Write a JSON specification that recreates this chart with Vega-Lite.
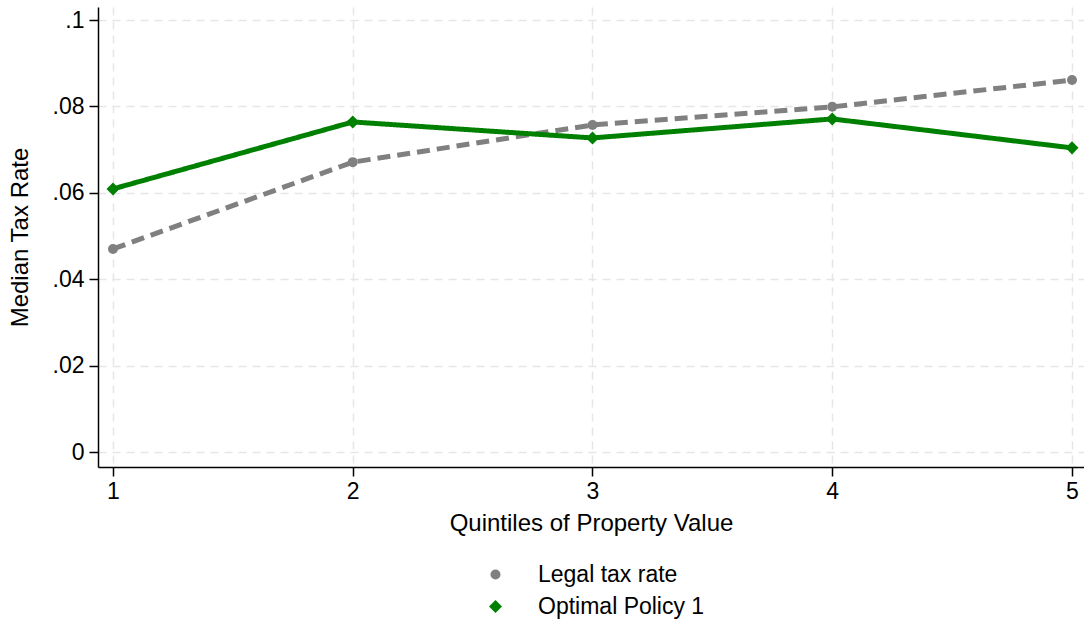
{
  "$schema": "https://vega.github.io/schema/vega-lite/v6.json",
  "width": 986,
  "height": 460,
  "autosize": {"type": "none"},
  "padding": {"left": 98, "top": 7, "right": 0, "bottom": 155},
  "background": "white",
  "config": {
    "view": {"stroke": null},
    "font": "Liberation Sans",
    "axis": {
      "domainColor": "black",
      "domainWidth": 1.5,
      "tickColor": "black",
      "tickWidth": 1.5,
      "tickSize": 9,
      "labelFontSize": 23,
      "labelColor": "black",
      "titleFontSize": 24,
      "titleFontWeight": "normal",
      "titleColor": "black",
      "grid": true,
      "gridColor": "#e6e6e6",
      "gridWidth": 1.5,
      "gridDash": [8, 6]
    }
  },
  "data": {
    "values": [
      {"q": 1, "series": "Legal tax rate", "rate": 0.0470},
      {"q": 2, "series": "Legal tax rate", "rate": 0.0671},
      {"q": 3, "series": "Legal tax rate", "rate": 0.0757},
      {"q": 4, "series": "Legal tax rate", "rate": 0.0799},
      {"q": 5, "series": "Legal tax rate", "rate": 0.0861},
      {"q": 1, "series": "Optimal Policy 1", "rate": 0.0609},
      {"q": 2, "series": "Optimal Policy 1", "rate": 0.0764},
      {"q": 3, "series": "Optimal Policy 1", "rate": 0.0727},
      {"q": 4, "series": "Optimal Policy 1", "rate": 0.0771},
      {"q": 5, "series": "Optimal Policy 1", "rate": 0.0704}
    ]
  },
  "encoding": {
    "x": {
      "field": "q",
      "type": "quantitative",
      "scale": {"domain": [0.93744, 5.05005], "nice": false, "zero": false},
      "axis": {
        "values": [1, 2, 3, 4, 5],
        "format": "d",
        "title": "Quintiles of Property Value",
        "labelPadding": 4,
        "titlePadding": 8
      }
    },
    "y": {
      "field": "rate",
      "type": "quantitative",
      "scale": {"domain": [-0.003472, 0.10301], "nice": false, "zero": false},
      "axis": {
        "values": [0, 0.02, 0.04, 0.06, 0.08, 0.1],
        "labelExpr": "datum.value == 0 ? '0' : slice(format(datum.value, '.2~f'), 1)",
        "title": "Median Tax Rate",
        "labelPadding": 5,
        "titlePadding": 20
      }
    },
    "color": {
      "field": "series",
      "type": "nominal",
      "scale": {"domain": ["Legal tax rate", "Optimal Policy 1"], "range": ["#808080", "#008000"]},
      "legend": {
        "title": null,
        "orient": "none",
        "legendX": 386,
        "legendY": 556,
        "direction": "vertical",
        "padding": 0,
        "symbolType": "circle",
        "symbolStrokeWidth": 0,
        "labelFontSize": 23,
        "labelColor": "black",
        "labelLimit": 500,
        "labelOffset": 31,
        "rowPadding": 8,
        "symbolOpacity": 1
      }
    }
  },
  "layer": [
    {
      "mark": {"type": "line", "strokeWidth": 5},
      "encoding": {
        "strokeDash": {
          "field": "series",
          "type": "nominal",
          "scale": {"domain": ["Legal tax rate", "Optimal Policy 1"], "range": [[13, 7], [1, 0]]},
          "legend": null
        }
      }
    },
    {
      "mark": {"type": "point", "filled": true, "opacity": 1},
      "encoding": {
        "shape": {
          "field": "series",
          "type": "nominal",
          "scale": {"domain": ["Legal tax rate", "Optimal Policy 1"], "range": ["circle", "diamond"]},
          "legend": null
        },
        "size": {
          "field": "series",
          "type": "ordinal",
          "scale": {"domain": ["Legal tax rate", "Optimal Policy 1"], "range": [100, 170]},
          "legend": null
        }
      }
    }
  ]
}
